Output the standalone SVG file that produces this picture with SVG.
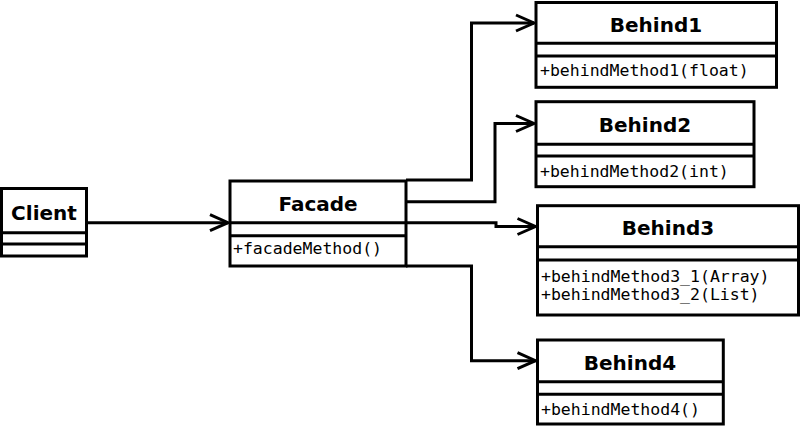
<svg xmlns="http://www.w3.org/2000/svg" width="800" height="426" viewBox="0 0 800 426">
<defs>
<marker id="arr" markerUnits="userSpaceOnUse" markerWidth="30" markerHeight="24" refX="20" refY="10" orient="auto" overflow="visible">
<path d="M2,2 L20,10 L2,18" fill="none" stroke="#000" stroke-width="3"/>
</marker>
<style>
.box{fill:#fff;stroke:#000;stroke-width:3}
.sep{stroke:#000;stroke-width:3}
.name{font-family:"DejaVu Sans",sans-serif;font-weight:bold;font-size:20px;text-anchor:middle;fill:#000}
.m{font-family:"DejaVu Sans Mono",monospace;font-size:16.5px;fill:#000}
.c{fill:none;stroke:#000;stroke-width:3;marker-end:url(#arr)}
</style>
</defs>
<rect width="800" height="426" fill="#fff"/>
<g id="connectors">
<polyline class="c" points="87,222.7 228,222.7"/>
<polyline class="c" points="406,180 471.5,180 471.5,23 534,23"/>
<polyline class="c" points="406,201.7 495,201.7 495,123.5 534,123.5"/>
<polyline class="c" points="406,222.7 496,222.7 496,226.5 535.5,226.5"/>
<polyline class="c" points="406,266 471.5,266 471.5,360.7 535.5,360.7"/>
</g>
<g id="client">
<rect class="box" x="1.5" y="188.5" width="85" height="67.5"/>
<line class="sep" x1="1.5" y1="232.7" x2="86.5" y2="232.7"/>
<line class="sep" x1="1.5" y1="244" x2="86.5" y2="244"/>
<text class="name" x="44" y="219.5">Client</text>
</g>
<g id="facade">
<rect class="box" x="230" y="181" width="176" height="85"/>
<line class="sep" x1="230" y1="222.7" x2="406" y2="222.7"/>
<line class="sep" x1="230" y1="235.7" x2="406" y2="235.7"/>
<text class="name" x="318" y="210.7">Facade</text>
<text class="m" x="233" y="254">+facadeMethod()</text>
</g>
<g id="behind1">
<rect class="box" x="536" y="2.5" width="240.5" height="84.8"/>
<line class="sep" x1="536" y1="43.3" x2="776.5" y2="43.3"/>
<line class="sep" x1="536" y1="56" x2="776.5" y2="56"/>
<text class="name" x="656" y="32">Behind1</text>
<text class="m" x="540" y="76">+behindMethod1(float)</text>
</g>
<g id="behind2">
<rect class="box" x="536" y="101.7" width="218" height="85"/>
<line class="sep" x1="536" y1="144.3" x2="754" y2="144.3"/>
<line class="sep" x1="536" y1="156" x2="754" y2="156"/>
<text class="name" x="645" y="131.7">Behind2</text>
<text class="m" x="540" y="176.7">+behindMethod2(int)</text>
</g>
<g id="behind3">
<rect class="box" x="537.5" y="205.7" width="261" height="109.3"/>
<line class="sep" x1="537.5" y1="246.7" x2="798.5" y2="246.7"/>
<line class="sep" x1="537.5" y1="260" x2="798.5" y2="260"/>
<text class="name" x="668" y="235">Behind3</text>
<text class="m" x="541" y="281.7">+behindMethod3_1(Array)</text>
<text class="m" x="541" y="300">+behindMethod3_2(List)</text>
</g>
<g id="behind4">
<rect class="box" x="537.5" y="340" width="185.8" height="84"/>
<line class="sep" x1="537.5" y1="381.7" x2="723.3" y2="381.7"/>
<line class="sep" x1="537.5" y1="394.3" x2="723.3" y2="394.3"/>
<text class="name" x="630" y="370">Behind4</text>
<text class="m" x="541" y="415">+behindMethod4()</text>
</g>
</svg>
